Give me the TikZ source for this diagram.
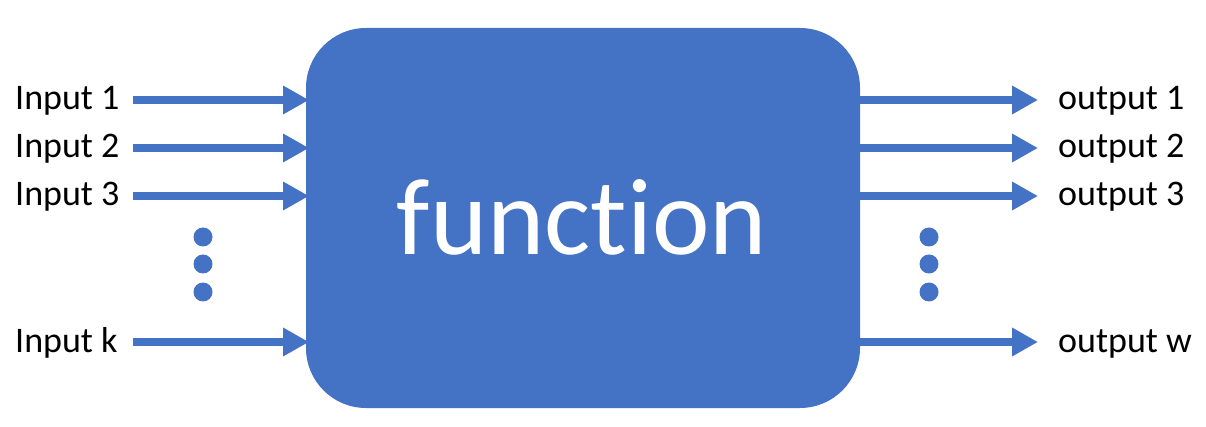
\documentclass[tikz,border=0pt]{standalone}
\usepackage{fontspec}
\setmainfont[Ligatures=NoCommon,RawFeature={-liga;-dlig}]{Carlito}
\usetikzlibrary{arrows.meta}
\definecolor{fnblue}{HTML}{4472C4}
\begin{document}
\begin{tikzpicture}[x=1pt,y=-1pt,
  lbl/.style={font=\fontsize{36}{40}\selectfont, inner sep=0pt, anchor=base west},
  arr/.style={draw=fnblue, line width=8.5pt, -{Triangle[length=26pt,width=27pt]}},
  dotc/.style={circle, fill=fnblue, minimum size=19pt, inner sep=0pt}]
\useasboundingbox (0,0) rectangle (1206,427);
\node[fill=fnblue, rounded corners=60pt, minimum width=554pt, minimum height=380pt, inner sep=0pt] (fn) at (583,218) {};
\node[font=\fontsize{109}{114}\selectfont, text=white, inner sep=0pt, anchor=base] (ft) at (582,255) {function};
% input labels
\node[lbl] (i1) at (15,110) {Input 1};
\node[lbl] (i2) at (15,158) {Input 2};
\node[lbl] (i3) at (15,206) {Input 3};
\node[lbl] (ik) at (15,352) {Input k};
\node[lbl] (o1) at (1058,110) {output 1};
\node[lbl] (o2) at (1058,158) {output 2};
\node[lbl] (o3) at (1058,206) {output 3};
\node[lbl] (ow) at (1058,352) {output w};
% arrow endpoints
\foreach \n/\y in {1/100,2/148,3/196,k/342}{
  \coordinate (a\n) at (133,\y);
  \coordinate (b\n) at (309,\y);
  \draw[arr] (a\n) -- (b\n);
}
\foreach \n/\y in {1/100,2/148,3/196,w/342}{
  \coordinate (c\n) at (859,\y);
  \coordinate (d\n) at (1038,\y);
  \draw[arr] (c\n) -- (d\n);
}
% dots
\node[dotc] (l1) at (203,237) {};
\node[dotc] (l2) at (203,264) {};
\node[dotc] (l3) at (203,292) {};
\node[dotc] (r1) at (929,237) {};
\node[dotc] (r2) at (929,264) {};
\node[dotc] (r3) at (929,292) {};
\end{tikzpicture}
\end{document}
